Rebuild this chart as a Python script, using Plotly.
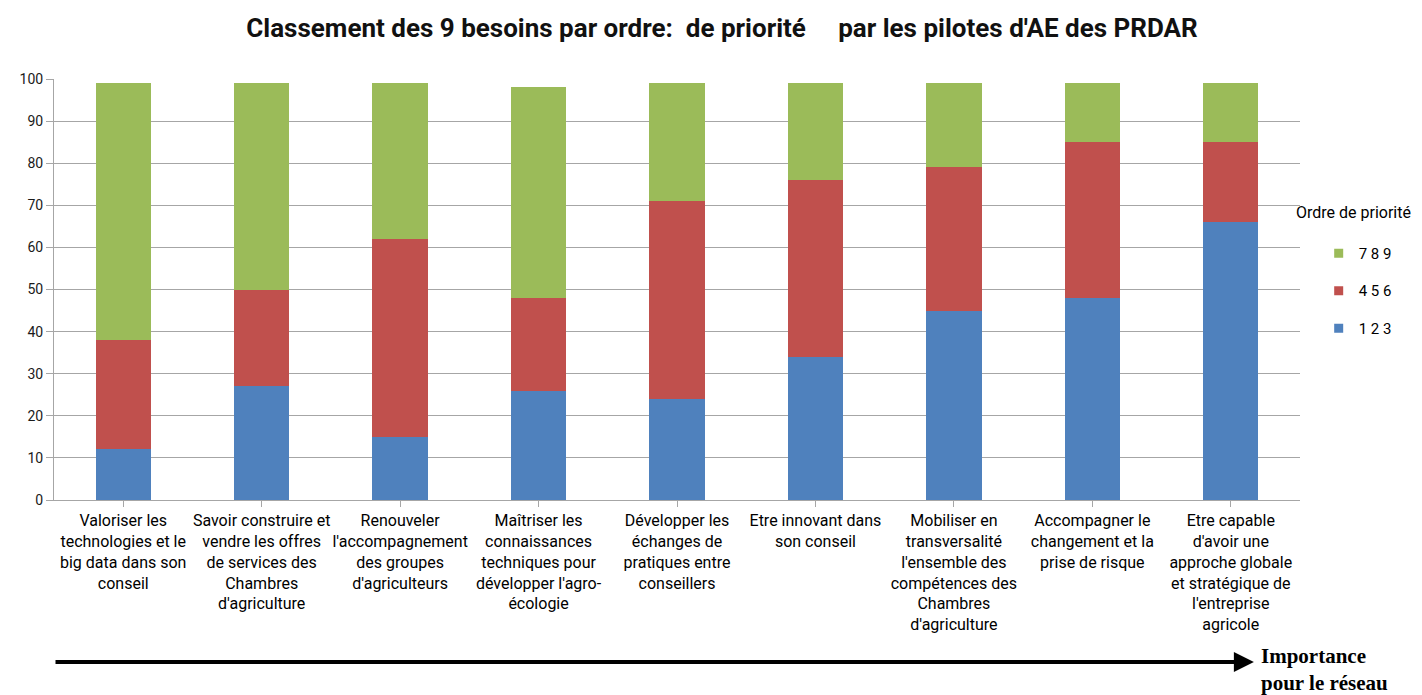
import plotly.graph_objects as go

categories = [
    "Valoriser les<br>technologies et le<br>big data dans son<br>conseil",
    "Savoir construire et<br>vendre les offres<br>de services des<br>Chambres<br>d'agriculture",
    "Renouveler<br>l'accompagnement<br>des groupes<br>d'agriculteurs",
    "Maîtriser les<br>connaissances<br>techniques pour<br>développer l'agro-<br>écologie",
    "Développer les<br>échanges de<br>pratiques entre<br>conseillers",
    "Etre innovant dans<br>son conseil",
    "Mobiliser en<br>transversalité<br>l'ensemble des<br>compétences des<br>Chambres<br>d'agriculture",
    "Accompagner le<br>changement et la<br>prise de risque",
    "Etre capable<br>d'avoir une<br>approche globale<br>et stratégique de<br>l'entreprise<br>agricole",
]
prio_123 = [12, 27, 15, 26, 24, 34, 45, 48, 66]
prio_456 = [26, 23, 47, 22, 47, 42, 34, 37, 19]
prio_789 = [61, 49, 37, 50, 28, 23, 20, 14, 14]
y_ticks = list(range(0, 101, 10))

FONT = "Roboto"
fig = go.Figure()
series = [("1 2 3", prio_123, "#4F81BD"), ("4 5 6", prio_456, "#C0504D"), ("7 8 9", prio_789, "#9BBB59")]
for name, vals, col in series:
    fig.add_trace(go.Bar(x=list(range(len(categories))), y=vals, name=name, marker_color=col,
                         marker_line_width=0, showlegend=False, hoverinfo="skip"))
# legend entries with small square symbols (top to bottom: 7 8 9, 4 5 6, 1 2 3)
for name, vals, col in reversed(series):
    fig.add_trace(go.Scatter(x=[None], y=[None], mode="markers", name=name, legendgroup=name,
                             marker=dict(symbol="square", size=9, color=col), hoverinfo="skip"))

title_txt = ("<b>Classement des 9 besoins par ordre:&nbsp;&nbsp;de priorité"
             "&nbsp;&nbsp;&nbsp;&nbsp;&nbsp;par les pilotes d'AE des PRDAR</b>")

fig.update_layout(
    barmode="stack", bargap=0.6,
    width=1414, height=687,
    margin=dict(l=44, r=122, t=71, b=195),
    plot_bgcolor="white", paper_bgcolor="white",
    font=dict(family=FONT, size=14, color="black"),
    title=dict(text=title_txt, x=714 / 1414, xref="container", xanchor="center",
               y=1 - 20 / 687, yanchor="middle",
               font=dict(family=FONT, size=26, color="#111111")),
    legend=dict(x=1.015, xanchor="left", y=0.625, yanchor="top", traceorder="grouped",
                tracegroupgap=15, font=dict(size=15, family=FONT), itemwidth=30,
                bgcolor="rgba(0,0,0,0)"),
    showlegend=True,
)
fig.add_annotation(xref="x domain", yref="y domain", x=1.0, y=(500 - 213) / 421, xanchor="left",
                   yanchor="middle", text="Ordre de priorité", showarrow=False,
                   font=dict(family=FONT, size=16, color="black"), xshift=-6)

fig.update_yaxes(range=[0, 100], tickvals=y_ticks, showgrid=True, gridcolor="#A6A6A6", gridwidth=1,
                 showline=True, linecolor="#A6A6A6", linewidth=1, ticks="outside", ticklen=7,
                 tickcolor="#A6A6A6", tickfont=dict(size=14, color="#1a1a1a"), zeroline=False)
fig.update_xaxes(tickvals=list(range(len(categories))), ticktext=categories, range=[-0.5, 8.5],
                 showline=True, linecolor="#A6A6A6", linewidth=1, ticks="outside", ticklen=6,
                 tickcolor="#A6A6A6", tickson="boundaries", tickangle=0,
                 tickfont=dict(size=16, color="black"), showgrid=False)

# Arrow "Importance pour le réseau"
fig.add_annotation(xref="x domain", yref="y domain", axref="x domain", ayref="y domain",
                   x=0.963, y=-0.385, ax=0.0, ay=-0.385, text="", showarrow=True,
                   arrowhead=2, arrowsize=1, arrowwidth=4, arrowcolor="black")
fig.add_annotation(xref="x domain", yref="y domain", x=0.967, y=-0.385, xanchor="left", yanchor="middle",
                   text="<b>Importance<br>pour le réseau</b>", showarrow=False, align="left",
                   font=dict(family="Liberation Serif", size=21, color="black"), yshift=-7)

fig.write_html("out.html")
